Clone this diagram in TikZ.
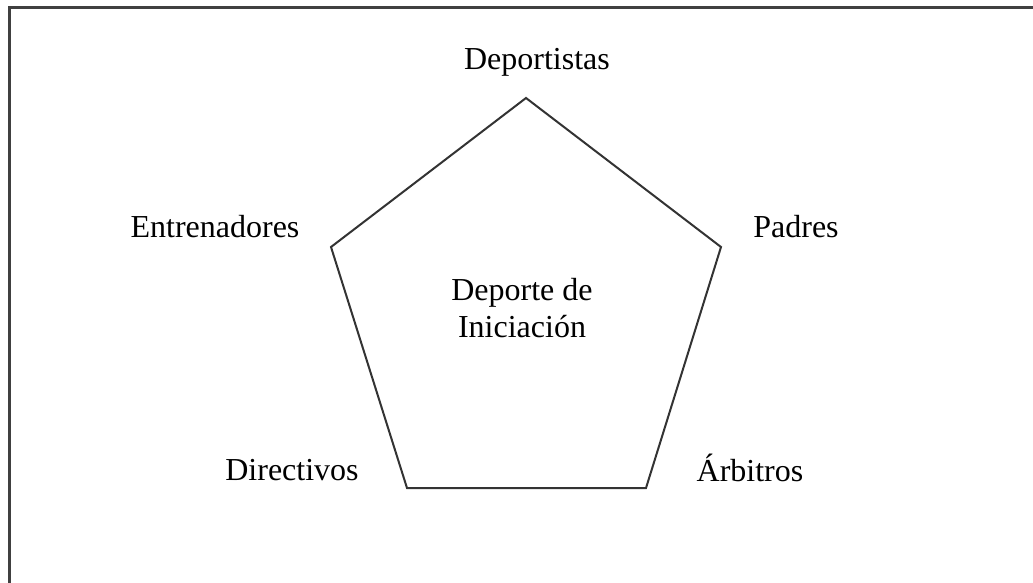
\documentclass[tikz,border=0pt]{standalone}
\usepackage{fontspec}
\setmainfont{Liberation Serif}
\begin{document}
\begin{tikzpicture}[x=1pt,y=-1pt,
  lbl/.style={font=\fontsize{32}{38}\selectfont, inner sep=0pt, align=center},
  pent/.style={draw=black!80, line width=2pt, line join=miter},
  frame/.style={draw=black!75, line width=3pt}]
\useasboundingbox (0,0) rectangle (1033,583);
\coordinate (T) at (526,98);
\coordinate (UL) at (331,247);
\coordinate (UR) at (721,247);
\coordinate (BL) at (407,488);
\coordinate (BR) at (646,488);
\draw[pent] (T) -- (UR) -- (BR) -- (BL) -- (UL) -- cycle;
\coordinate (c1) at (9,583);
\coordinate (c2) at (9,8);
\coordinate (c3) at (1033,8);
\draw[frame] (c1) -- (c2) -- (c3);
\node[lbl] (dep) at (537,62) {Deportistas};
\node[lbl] (ent) at (215,227) {Entrenadores};
\node[lbl] (pad) at (796,227) {Padres};
\node[lbl] (cen) at (522,308) {Deporte de\\[-0.05em]Iniciación};
\node[lbl] (dir) at (292,470) {Directivos};
\node[lbl] (arb) at (750,468) {Árbitros};
\end{tikzpicture}
\end{document}
